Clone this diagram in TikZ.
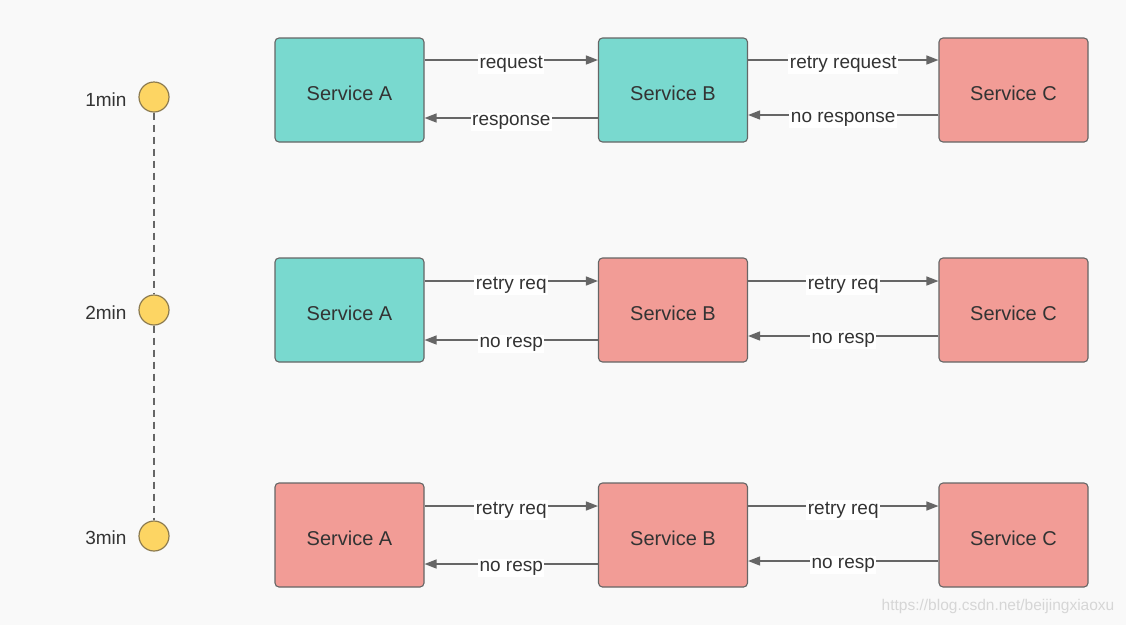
\documentclass[tikz,border=0pt]{standalone}
\usepackage{fontspec}
\setmainfont{Liberation Sans}
\usetikzlibrary{arrows.meta}
\definecolor{bg}{HTML}{F9F9F9}
\definecolor{tealfill}{HTML}{79D9CF}
\definecolor{redfill}{HTML}{F29C96}
\definecolor{edge}{HTML}{666666}
\definecolor{txt}{HTML}{333333}
\definecolor{dotfill}{HTML}{FDD563}
\definecolor{dotedge}{HTML}{8C7B50}
\tikzset{
  svc/.style={draw=edge, line width=1.1pt, rounded corners=4pt, minimum width=149pt, minimum height=104pt, text=txt, font=\fontsize{20}{22}\selectfont},
  okbox/.style={svc, fill=tealfill},
  badbox/.style={svc, fill=redfill},
  svctext/.style={text=txt, font=\fontsize{20}{22}\selectfont},
  arr/.style={draw=edge, line width=1.4pt, -{Triangle[length=12pt,width=9pt]}},
  lbl/.style={fill=white, inner sep=1.5pt, text=txt, font=\fontsize{19}{21}\selectfont, yshift=-4pt},
  dot/.style={circle, draw=dotedge, line width=1.2pt, fill=dotfill, minimum size=30pt, inner sep=0pt},
  tlabel/.style={anchor=east, text=txt, font=\fontsize{19}{21}\selectfont},
  tline/.style={draw=edge, line width=1.3pt, dash pattern=on 7pt off 5pt}
}
\begin{document}
\begin{tikzpicture}[x=1pt,y=-1pt]
\fill[bg] (0,0) rectangle (1126,625);
\useasboundingbox (0,0) rectangle (1126,625);

% timeline
\node[dot] (t1) at (154,97) {};
\node[dot] (t2) at (154,310) {};
\node[dot] (t3) at (154,536) {};
\draw[tline] (t1.south) -- (t2.north);
\draw[tline] (t2.south) -- (t3.north);
\node[tlabel] (l1) at (130,100) {1min};
\node[tlabel] (l2) at (130,313) {2min};
\node[tlabel] (l3) at (130,538) {3min};

% row 1
\node[okbox] (a1) at (349.5,90) {};
\node[okbox] (b1) at (673,90) {};
\node[badbox] (c1) at (1013.5,90) {};
\node[svctext] (a1t) at (349.5,93) {Service A};
\node[svctext] (b1t) at (673,93) {Service B};
\node[svctext] (c1t) at (1013.5,93) {Service C};
\draw[arr] (a1.east |- 0,60) -- (b1.west |- 0,60) node[lbl,midway] {request};
\draw[arr] (b1.west |- 0,118) -- (a1.east |- 0,118) node[lbl,midway] {response};
\draw[arr] (b1.east |- 0,60) -- (c1.west |- 0,60) node[lbl,midway] {retry request};
\draw[arr] (c1.west |- 0,115) -- (b1.east |- 0,115) node[lbl,midway] {no response};

% row 2
\node[okbox] (a2) at (349.5,310) {};
\node[badbox] (b2) at (673,310) {};
\node[badbox] (c2) at (1013.5,310) {};
\node[svctext] (a2t) at (349.5,313) {Service A};
\node[svctext] (b2t) at (673,313) {Service B};
\node[svctext] (c2t) at (1013.5,313) {Service C};
\draw[arr] (a2.east |- 0,281) -- (b2.west |- 0,281) node[lbl,midway] {retry req};
\draw[arr] (b2.west |- 0,340) -- (a2.east |- 0,340) node[lbl,midway] {no resp};
\draw[arr] (b2.east |- 0,281) -- (c2.west |- 0,281) node[lbl,midway] {retry req};
\draw[arr] (c2.west |- 0,336) -- (b2.east |- 0,336) node[lbl,midway] {no resp};

% row 3
\node[badbox] (a3) at (349.5,535) {};
\node[badbox] (b3) at (673,535) {};
\node[badbox] (c3) at (1013.5,535) {};
\node[svctext] (a3t) at (349.5,538) {Service A};
\node[svctext] (b3t) at (673,538) {Service B};
\node[svctext] (c3t) at (1013.5,538) {Service C};
\draw[arr] (a3.east |- 0,506) -- (b3.west |- 0,506) node[lbl,midway] {retry req};
\draw[arr] (b3.west |- 0,564) -- (a3.east |- 0,564) node[lbl,midway] {no resp};
\draw[arr] (b3.east |- 0,506) -- (c3.west |- 0,506) node[lbl,midway] {retry req};
\draw[arr] (c3.west |- 0,561) -- (b3.east |- 0,561) node[lbl,midway] {no resp};

% watermark
\node[text=black!16, font=\fontsize{15.5}{17}\selectfont] (wm) at (998,606) {https://blog.csdn.net/beijingxiaoxu};
\end{tikzpicture}
\end{document}
